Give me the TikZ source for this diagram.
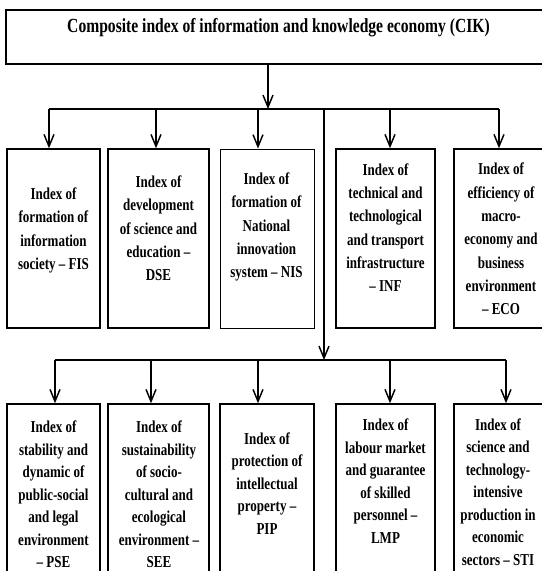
\documentclass[tikz,border=0pt]{standalone}
\usepackage{fontspec}
\setmainfont{Liberation Serif}[FakeStretch=0.78]
\usetikzlibrary{arrows.meta}

\begin{document}
\begin{tikzpicture}[x=0.75pt,y=0.75pt,yscale=-1,xscale=1,
  idxbox/.style 2 args={draw, line width=1.1pt, minimum width=#1*0.75pt, minimum height=#2*0.75pt, inner sep=0pt},
  idxtext/.style={align=center, inner sep=0pt, font=\bfseries\fontsize{12.5}{17.5}\selectfont},
  lowtext/.style={idxtext, font=\bfseries\fontsize{12.5}{16.9}\selectfont},
  link/.style={line width=1.1pt},
  arr/.style={link, -{Straight Barb[length=9pt, width=7.5pt, line width=1.1pt]}}]
\useasboundingbox (0,0) rectangle (542,571);

%Shape: Rectangle (top)
\node [idxbox={540}{54}] (cik) at (276,37) {};
% Text Node
\node [idxtext, font=\bfseries\fontsize{15}{17}\selectfont] (ciktitle) at (278.5,28) {Composite index of information and knowledge economy (CIK)};

%Shape: Rectangles (upper row)
\node [idxbox={93}{179}] (fis) at (53.5,238.5) {};
\node [idxbox={101}{179}] (dse) at (158.5,238.5) {};
\node [idxbox={94}{179}, line width=0.7pt] (nis) at (267,238.5) {};
\node [idxbox={99}{179}] (inf) at (385.5,238.5) {};
\node [idxbox={92}{179}] (eco) at (500,238.5) {};

%Shape: Rectangles (lower row)
\node [idxbox={93}{176}] (pse) at (53.5,492) {};
\node [idxbox={101}{176}] (see) at (158.5,492) {};
\node [idxbox={94}{176}] (pip) at (267,492) {};
\node [idxbox={99}{176}] (lmp) at (385.5,492) {};
\node [idxbox={92}{176}] (sti) at (500,492) {};

% Text Nodes (upper row)
\node [idxtext] (fistext) at (53.5,230.5) {Index of\\formation of\\information\\society -- FIS};
\node [idxtext] (dsetext) at (158.5,228.5) {Index of\\development\\of science and\\education --\\DSE};
\node [idxtext] (nistext) at (266.5,227) {Index of\\formation of\\National\\innovation\\system -- NIS};
\node [idxtext] (inftext) at (385.5,227.5) {Index of\\technical and\\technological\\and transport\\infrastructure\\-- INF};
\node [idxtext] (ecotext) at (501,239) {Index of\\efficiency of\\macro-\\economy and\\business\\environment\\-- ECO};

% Text Nodes (lower row)
\node [lowtext] (psetext) at (53.5,494.5) {Index of\\stability and\\dynamic of\\public-social\\and legal\\environment\\-- PSE};
\node [lowtext] (seetext) at (159,494.5) {Index of\\sustainability\\of socio-\\cultural and\\ecological\\environment --\\SEE};
\node [lowtext] (piptext) at (267,483.5) {Index of\\protection of\\intellectual\\property --\\PIP};
\node [lowtext] (lmptext) at (385.5,481) {Index of\\labour market\\and guarantee\\of skilled\\personnel --\\LMP};
\node [lowtext] (stitext) at (498,492) {Index of\\science and\\technology-\\intensive\\production in\\economic\\sectors -- STI};

%Coordinates on the buses
\coordinate (bus1) at (268,109);
\coordinate (u1) at (49,109);
\coordinate (u2) at (156,109);
\coordinate (u3) at (258,109);
\coordinate (u4) at (390,109);
\coordinate (u5) at (499,109);
\coordinate (hub) at (324,109);
\coordinate (bus2) at (324,360);
\coordinate (l1) at (55,360);
\coordinate (l2) at (151,360);
\coordinate (l3) at (258,360);
\coordinate (l4) at (390,360);
\coordinate (l5) at (506,360);

%Straight Lines
\draw [arr] (cik.south -| bus1) -- (bus1);
\draw [link] (u1) -- (u5);
\draw [arr] (u1) -- (u1 |- fis.north);
\draw [arr] (u2) -- (u2 |- dse.north);
\draw [arr] (u3) -- (u3 |- nis.north);
\draw [arr] (u4) -- (u4 |- inf.north);
\draw [arr] (u5) -- (u5 |- eco.north);

%Straight Lines
\draw [arr] (hub) -- (bus2);
\draw [link] (l1) -- (l5);
\draw [arr] (l1) -- (l1 |- pse.north);
\draw [arr] (l2) -- (l2 |- see.north);
\draw [arr] (l3) -- (l3 |- pip.north);
\draw [arr] (l4) -- (l4 |- lmp.north);
\draw [arr] (l5) -- (l5 |- sti.north);

\end{tikzpicture}
\end{document}
